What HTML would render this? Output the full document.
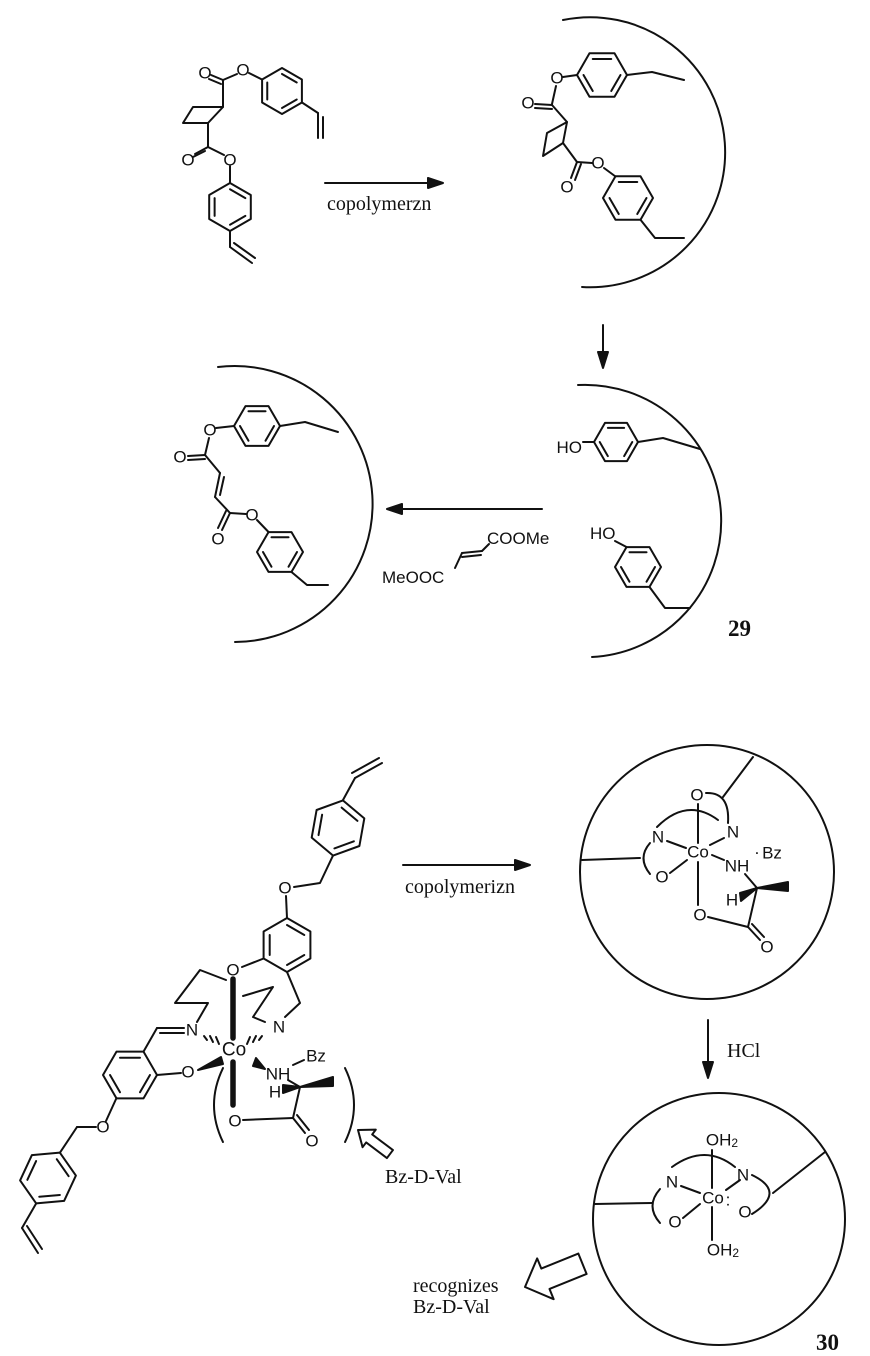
<!DOCTYPE html>
<html><head><meta charset="utf-8"><style>
html,body{margin:0;padding:0;background:#fff;}
svg{display:block;}
.s{font-family:"Liberation Sans",sans-serif;font-size:17px;fill:#111;}
.t{font-family:"Liberation Serif",serif;font-size:20px;fill:#111;}
.b{font-family:"Liberation Serif",serif;font-size:23px;font-weight:bold;fill:#111;}
</style></head><body>
<svg id="sv" width="870" height="1356" viewBox="0 0 870 1356" xmlns="http://www.w3.org/2000/svg">
<g id="g" stroke="#111" stroke-width="2" fill="none" stroke-linecap="round" stroke-linejoin="round">
<line x1="262" y1="79.5" x2="249" y2="73"/>
<line x1="237" y1="74" x2="223" y2="80"/>
<line x1="223" y1="80" x2="211" y2="75"/><line x1="221" y1="84" x2="209" y2="79"/>
<line x1="223" y1="80" x2="223" y2="107"/>
<polygon points="193,107 223,107 208,123 183,123"/>
<line x1="208" y1="123" x2="208" y2="147"/>
<line x1="208" y1="147" x2="195" y2="154"/><line x1="205" y1="151" x2="193" y2="157"/>
<line x1="208" y1="147" x2="224" y2="155"/>
<line x1="230" y1="166" x2="230" y2="183"/>
<line x1="302" y1="102.5" x2="318" y2="113"/>
<line x1="318" y1="113" x2="318" y2="138"/><line x1="323" y1="117" x2="323" y2="138"/>
<line x1="230" y1="231" x2="230" y2="247"/>
<line x1="230" y1="247" x2="252" y2="263"/><line x1="234" y1="243" x2="255" y2="258"/>
<line x1="325" y1="183" x2="432" y2="183"/>
<polygon points="443,183 428,178 428,188" fill="#111"/>
<path d="M563,20 A135,135 0 1 1 582,287"/>
<line x1="563" y1="77" x2="577" y2="75"/>
<line x1="556" y1="86" x2="552" y2="104"/>
<line x1="552" y1="105" x2="535" y2="104"/><line x1="552" y1="109" x2="535" y2="108"/>
<line x1="552" y1="105" x2="567" y2="122"/>
<polygon points="567,122 563,143 543,156 547,133"/>
<line x1="563" y1="143" x2="577" y2="162"/>
<line x1="577" y1="162" x2="571" y2="178"/><line x1="581" y1="164" x2="575" y2="180"/>
<line x1="577" y1="162" x2="592" y2="163"/>
<line x1="604" y1="168" x2="615.5" y2="176.5"/>
<polyline points="627,75 652,72 684,80"/>
<polyline points="640.5,219.7 655,238 684,238"/>
<line x1="603" y1="325" x2="603" y2="356"/>
<polygon points="603,368 598,352 608,352" fill="#111"/>
<path d="M578,385 A136,136 0 1 1 592,657"/>
<line x1="583" y1="442" x2="594" y2="442"/>
<polyline points="638,442 663,438 700,449"/>
<line x1="615" y1="541" x2="626.5" y2="547"/>
<polyline points="649.5,587 665,608 690,608"/>
<line x1="400" y1="509" x2="542" y2="509"/>
<polygon points="387,509 402,504 402,514" fill="#111"/>
<line x1="455" y1="568" x2="462" y2="553"/>
<line x1="462" y1="553" x2="482" y2="551"/><line x1="462" y1="557" x2="481" y2="555"/>
<line x1="482" y1="551" x2="489" y2="544"/>
<path d="M218,367 A138,138 0 1 1 235,642"/>
<line x1="216" y1="428" x2="234" y2="426"/>
<line x1="209" y1="438" x2="205" y2="455"/>
<line x1="205" y1="455" x2="188" y2="456"/><line x1="205" y1="459" x2="188" y2="460"/>
<line x1="205" y1="455" x2="220" y2="473"/>
<line x1="220" y1="473" x2="215" y2="497"/><line x1="224" y1="477" x2="220" y2="495"/>
<line x1="215" y1="497" x2="230" y2="513"/>
<line x1="230" y1="513" x2="222" y2="530"/><line x1="226" y1="511" x2="218" y2="528"/>
<line x1="230" y1="513" x2="246" y2="514"/>
<line x1="257" y1="520" x2="268.5" y2="532"/>
<polyline points="280,426 305,422 338,432"/>
<polyline points="291.5,572 307,585 328,585"/>
<line x1="343" y1="800" x2="355" y2="778"/>
<line x1="355" y1="778" x2="382" y2="763"/><line x1="352" y1="773" x2="379" y2="758"/>
<polyline points="333,855.6 320,883 294,887"/>
<line x1="286" y1="896" x2="287" y2="918"/>
<line x1="263.6" y1="958.5" x2="242" y2="967"/>
<polyline points="287,972 300,1003 285,1017"/>
<line x1="233" y1="979" x2="233" y2="1038" stroke-width="5.5"/>
<line x1="233" y1="1062" x2="233" y2="1105" stroke-width="5.5"/>
<polyline points="197,1022 208,1003 175,1003 200,970 226,980"/>
<polyline points="243,996 273,987 253,1017 265,1022"/>
<line x1="143.5" y1="1051.6" x2="157" y2="1028"/>
<line x1="157" y1="1028" x2="184" y2="1028"/><line x1="160" y1="1033" x2="184" y2="1033"/>
<line x1="157" y1="1075" x2="181" y2="1073"/>
<line x1="116.5" y1="1098" x2="106" y2="1121"/>
<line x1="96" y1="1127" x2="77" y2="1127"/><line x1="77" y1="1127" x2="60" y2="1152.6"/>
<line x1="36.2" y1="1203.4" x2="22" y2="1228"/>
<line x1="22" y1="1228" x2="38" y2="1253"/><line x1="27" y1="1226" x2="42" y2="1249"/>
<line x1="204" y1="1036" x2="207" y2="1040"/><line x1="210" y1="1036" x2="213" y2="1042"/><line x1="216" y1="1037" x2="219" y2="1044"/>
<line x1="262" y1="1036" x2="259" y2="1040"/><line x1="256" y1="1036" x2="253" y2="1042"/><line x1="250" y1="1037" x2="247" y2="1044"/>
<polygon points="198,1070 221,1057 223,1064" fill="#111"/>
<polygon points="256,1058 265,1069 253,1066" fill="#111"/>
<line x1="293" y1="1065" x2="304" y2="1060"/>
<line x1="288" y1="1080" x2="300" y2="1087"/>
<polygon points="283,1085 283,1093 300,1087" fill="#111"/>
<polygon points="300,1087 333,1077 333,1086" fill="#111"/>
<line x1="243" y1="1120" x2="293" y2="1118"/>
<line x1="300" y1="1087" x2="293" y2="1118"/>
<line x1="293" y1="1118" x2="305" y2="1133"/><line x1="297" y1="1115" x2="309" y2="1130"/>
<path d="M223,1068 Q205,1105 223,1142"/>
<path d="M345,1068 Q363,1105 345,1142"/>
<g transform="translate(358,1130) rotate(37)"><polygon points="0,0 14,-11 14,-5 40,-5 40,5 14,5 14,11"/></g>
<g transform="translate(525,1287) rotate(-22)"><polygon points="0,0 22,-22 22,-11 62,-11 62,11 22,11 22,22"/></g>
<line x1="403" y1="865" x2="518" y2="865"/>
<polygon points="530,865 515,860 515,870" fill="#111"/>
<circle cx="707" cy="872" r="127"/>
<line x1="582" y1="860" x2="640" y2="858"/>
<path d="M650,843 Q637,858 650,874"/>
<line x1="698" y1="804" x2="698" y2="843"/><line x1="698" y1="862" x2="698" y2="905"/>
<path d="M657,827 Q687,797 718,820"/>
<path d="M706,793 Q730,792 728,823"/>
<line x1="753" y1="757" x2="723" y2="797"/>
<line x1="667" y1="841" x2="686" y2="848"/><line x1="670" y1="873" x2="687" y2="860"/>
<line x1="712" y1="855" x2="724" y2="860"/><line x1="710" y1="845" x2="724" y2="838"/>
<line x1="745" y1="874" x2="757" y2="888"/>
<polygon points="757,888 788,882 788,891" fill="#111"/>
<polygon points="740,893 741,901 757,888" fill="#111"/>
<line x1="708" y1="917" x2="748" y2="927"/>
<line x1="748" y1="927" x2="760" y2="940"/><line x1="752" y1="924" x2="764" y2="937"/>
<line x1="748" y1="927" x2="757" y2="888"/>
<line x1="708" y1="1020" x2="708" y2="1066"/>
<polygon points="708,1078 703,1062 713,1062" fill="#111"/>
<circle cx="719" cy="1219" r="126"/>
<line x1="595" y1="1204" x2="652" y2="1203"/>
<path d="M660,1189 Q645,1206 660,1223"/>
<line x1="712" y1="1150" x2="712" y2="1188"/><line x1="712" y1="1207" x2="712" y2="1240"/>
<path d="M672,1167 Q705,1143 735,1167"/>
<path d="M752,1175 Q787,1192 752,1214"/>
<line x1="773" y1="1193" x2="825" y2="1152"/>
<line x1="681" y1="1186" x2="700" y2="1193"/><line x1="740" y1="1180" x2="726" y2="1190"/>
<line x1="683" y1="1218" x2="700" y2="1204"/>
</g>
<g class="s" text-anchor="middle" dominant-baseline="central">
<text x="243" y="70">O</text><text x="205" y="73">O</text><text x="188" y="160">O</text><text x="230" y="160">O</text>
<text x="557" y="78">O</text><text x="528" y="103">O</text><text x="567" y="187">O</text><text x="598" y="163">O</text>
<text x="210" y="430">O</text><text x="180" y="457">O</text><text x="218" y="539">O</text><text x="252" y="515">O</text>
<text x="285" y="888">O</text><text x="233" y="970">O</text><text x="192" y="1030">N</text><text x="279" y="1027">N</text>
<text x="234" y="1050" font-size="19">Co</text><text x="188" y="1072">O</text><text x="103" y="1127">O</text>
<text x="278" y="1074">NH</text><text x="316" y="1056">Bz</text><text x="275" y="1092">H</text>
<text x="235" y="1121">O</text><text x="312" y="1141">O</text>
<text x="697" y="795">O</text><text x="733" y="832">N</text><text x="658" y="837">N</text><text x="698" y="852">Co</text>
<text x="662" y="877">O</text><text x="737" y="866">NH</text><text x="772" y="853">Bz</text><text x="757" y="852">·</text>
<text x="732" y="900">H</text><text x="700" y="915">O</text><text x="767" y="947">O</text>
<text x="722" y="1140">OH<tspan font-size="12" dy="3">2</tspan></text>
<text x="723" y="1250">OH<tspan font-size="12" dy="3">2</tspan></text>
<text x="672" y="1182">N</text><text x="675" y="1222">O</text><text x="713" y="1198">Co</text>
<text x="745" y="1212">O</text><text x="743" y="1175">N</text><text x="728" y="1200">:</text>
</g>
<text class="s" x="582" y="453" text-anchor="end">HO</text>
<text class="s" x="590" y="539">HO</text>
<text class="s" x="487" y="544">COOMe</text>
<text class="s" x="382" y="583">MeOOC</text>
<text class="t" x="327" y="210">copolymerzn</text>
<text class="t" x="405" y="893">copolymerizn</text>
<text class="t" x="727" y="1057">HCl</text>
<text class="t" x="385" y="1183">Bz-D-Val</text>
<text class="t" x="413" y="1292">recognizes</text>
<text class="t" x="413" y="1313">Bz-D-Val</text>
<text class="b" x="728" y="636">29</text>
<text class="b" x="816" y="1350">30</text>
</svg>
<script>
(function(){
var g=document.getElementById('g'),NS='http://www.w3.org/2000/svg';
function L(a,b,c,d){var l=document.createElementNS(NS,'line');l.setAttribute('x1',a);l.setAttribute('y1',b);l.setAttribute('x2',c);l.setAttribute('y2',d);g.appendChild(l);}
function hex(cx,cy,r,rot,dbl){var v=[];for(var k=0;k<6;k++){var a=(rot+60*k)*Math.PI/180;v.push([cx+r*Math.cos(a),cy+r*Math.sin(a)]);}
var p=document.createElementNS(NS,'polygon');p.setAttribute('points',v.map(function(q){return q[0].toFixed(1)+','+q[1].toFixed(1);}).join(' '));g.appendChild(p);
dbl.forEach(function(k){var A=v[k],B=v[(k+1)%6],f=0.74;L(cx+f*(A[0]-cx),cy+f*(A[1]-cy),cx+f*(B[0]-cx),cy+f*(B[1]-cy));});}
hex(282,91,23,30,[0,2,4]);
hex(230,207,24,30,[0,2,4]);
hex(602,75,25,0,[0,2,4]);
hex(628,198,25,0,[0,2,4]);
hex(616,442,22,0,[0,2,4]);
hex(638,567,23,0,[0,2,4]);
hex(257,426,23,0,[0,2,4]);
hex(280,552,23,0,[0,2,4]);
hex(338,828,28,-80,[0,2,4]);
hex(287,945,27,30,[0,2,4]);
hex(130,1075,27,0,[0,2,4]);
hex(48,1178,28,-65,[0,2,4]);
})();
</script>
</body></html>
